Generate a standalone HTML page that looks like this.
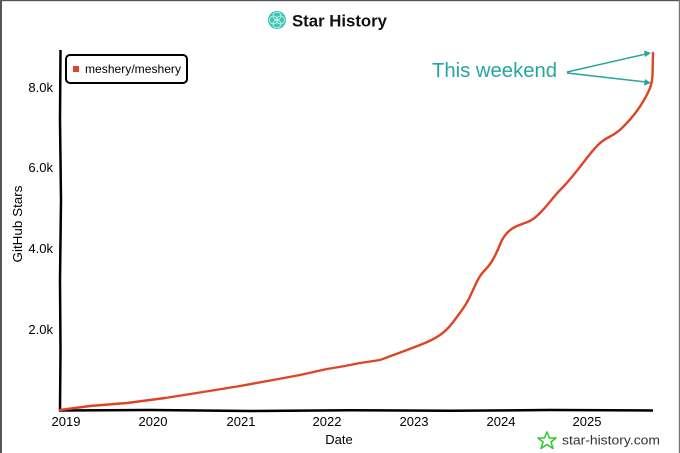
<!DOCTYPE html>
<html><head><meta charset="utf-8"><style>
html,body{margin:0;padding:0;background:#fff;}
.wrap{position:relative;width:680px;height:453px;overflow:hidden;background:#fff;}
svg{position:absolute;left:0;top:0;}
text{font-family:"Liberation Sans","DejaVu Sans",sans-serif;}
</style></head><body><div class="wrap">
<svg width="680" height="453" viewBox="0 0 680 453" xmlns="http://www.w3.org/2000/svg">
<rect x="0" y="0" width="680" height="453" fill="#fff"/>
<rect x="0" y="0" width="2" height="453" fill="#555"/>
<rect x="0" y="0" width="680" height="1.2" fill="#555"/>
<rect x="678.8" y="0" width="1.2" height="453" fill="#777"/>

<!-- title -->
<g>
<circle cx="277" cy="20" r="9" fill="#3cc4b4"/>
<g stroke="#fff" stroke-width="0.8" fill="none" opacity="0.8">
<circle cx="277" cy="16" r="4"/><circle cx="277" cy="24" r="4"/><circle cx="273.5" cy="20" r="4"/><circle cx="280.5" cy="20" r="4"/>
</g>
<text x="292" y="26.5" font-size="17" font-weight="bold" fill="#111" textLength="95" lengthAdjust="spacingAndGlyphs">Star History</text>
</g>

<!-- axes -->
<path d="M60.5 50 L60 120 L61 200 L60 280 L60.5 350 L60 411" stroke="#000" stroke-width="2.5" fill="none"/>
<path d="M59 410.5 L150 410 L250 411 L350 410.2 L450 410.8 L550 410 L653 410.5" stroke="#000" stroke-width="2.5" fill="none"/>

<!-- y labels -->
<g font-size="13" fill="#000" text-anchor="end">
<text x="53" y="92">8.0k</text>
<text x="53" y="172">6.0k</text>
<text x="53" y="253">4.0k</text>
<text x="53" y="334">2.0k</text>
</g>
<text x="0" y="0" font-size="13" fill="#000" text-anchor="middle" transform="translate(22,224) rotate(-90)" textLength="77" lengthAdjust="spacingAndGlyphs">GitHub Stars</text>

<!-- x labels -->
<g font-size="13" fill="#000" text-anchor="middle">
<text x="66" y="426">2019</text>
<text x="153" y="426">2020</text>
<text x="241" y="426">2021</text>
<text x="327" y="426">2022</text>
<text x="414" y="426">2023</text>
<text x="501" y="426">2024</text>
<text x="587" y="426">2025</text>
<text x="339" y="444">Date</text>
</g>

<!-- series -->
<path fill="none" stroke="#dd4528" stroke-width="2.4" stroke-linejoin="round" stroke-linecap="round"
d="M60,410 L90,406 L127,403 L165,398 L203,392 L240,386 L273,380 L300,375 L327,369 L345,366 L360,363 L380,360 L407,350 L420,345 Q433,340 440,335 Q447,330 452,323.5 Q457,317 462,310 Q467,303 470,296.5 Q473,290 476.5,282.5 Q480,275 485,270 Q490,265 493.5,258.5 Q497,252 500,244.5 Q503,237 507.5,232.5 Q512,228 517,226 Q522,224 527.5,222 Q533,220 539,214 Q545,208 551,200.5 Q557,193 562,188 Q567,183 573.5,175 Q580,167 586.5,158.5 Q593,150 598,145 Q603,140 610,136.5 Q617,133 623.5,126.5 Q630,120 635,113.5 Q640,107 644,100 Q648,93 650,88 Q652,83 652.5,75 L653,53"/>

<!-- legend -->
<rect x="66" y="55" width="121" height="28" rx="4" ry="4" fill="#fff" stroke="#000" stroke-width="2"/>
<rect x="73" y="66" width="6" height="6" fill="#dd4528"/>
<text x="85" y="73" font-size="12" fill="#000" textLength="96" lengthAdjust="spacingAndGlyphs">meshery/meshery</text>

<!-- annotation -->
<text x="432" y="77" font-size="20" fill="#26a69a" textLength="125" lengthAdjust="spacingAndGlyphs">This weekend</text>
<g stroke="#26a69a" stroke-width="1.5" fill="none">
<line x1="567" y1="72" x2="646" y2="54"/>
<line x1="567" y1="73" x2="646" y2="82"/>
</g>
<polygon points="651,53 644,50.5 645,57" fill="#26a69a"/>
<polygon points="651,83 645,79 644,85.5" fill="#26a69a"/>

<!-- watermark -->
<polygon points="547,432 549.5,438 556,438 551,442 553,448.5 547,444.5 541,448.5 543,442 538,438 544.5,438" fill="none" stroke="#2ecc2e" stroke-width="1.6" stroke-linejoin="round"/>
<text x="562" y="444.5" font-size="13" fill="#333" textLength="98" lengthAdjust="spacingAndGlyphs">star-history.com</text>
</svg>
</div></body></html>
